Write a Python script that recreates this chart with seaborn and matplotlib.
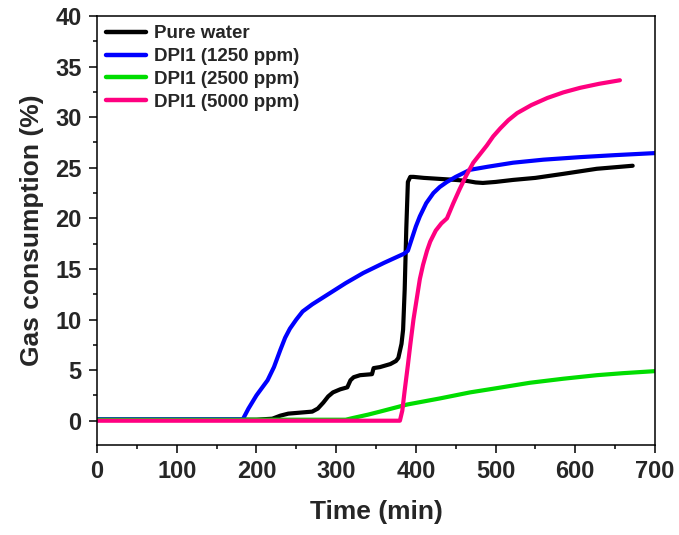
import matplotlib
matplotlib.use("Agg")
import matplotlib.pyplot as plt
import seaborn as sns
import pandas as pd
from matplotlib.ticker import MultipleLocator

# ---- data ----
labels = ["Pure water", "DPI1 (1250 ppm)", "DPI1 (2500 ppm)", "DPI1 (5000 ppm)"]
colors = ["#000000", "#0000FF", "#00DD00", "#FF0080"]

t_water = [0, 50, 100, 150, 200, 220, 230, 240, 255, 270, 277, 284, 290, 296, 305, 314,
           318, 322, 330, 345, 347, 355, 368, 375, 378, 382, 384, 386, 388, 390, 393, 397,
           410, 430, 450, 464, 475, 484, 500, 522, 550, 585, 627, 672]
y_water = [0.1, 0.1, 0.1, 0.1, 0.1, 0.2, 0.5, 0.7, 0.8, 0.9, 1.2, 1.8, 2.4, 2.8, 3.1, 3.3,
           4.0, 4.3, 4.5, 4.6, 5.2, 5.3, 5.6, 5.9, 6.2, 7.6, 9.0, 13.0, 19.0, 23.6, 24.1, 24.1,
           24.0, 23.9, 23.8, 23.7, 23.55, 23.5, 23.6, 23.8, 24.0, 24.4, 24.9, 25.2]

t_1250 = [0, 100, 183, 190, 200, 214, 222, 230, 236, 242, 250, 258, 270, 292, 312, 334, 360,
          385, 390, 395, 400, 405, 413, 422, 430, 439, 450, 468, 490, 522, 560, 606, 650, 700]
y_1250 = [0.15, 0.15, 0.15, 1.2, 2.5, 4.0, 5.3, 7.0, 8.2, 9.1, 10.0, 10.8, 11.5, 12.6, 13.6, 14.6, 15.6,
          16.5, 16.8, 18.0, 19.2, 20.2, 21.5, 22.5, 23.1, 23.6, 24.1, 24.8, 25.1, 25.5, 25.8, 26.05, 26.25, 26.45]

t_2500 = [0, 100, 200, 300, 312, 320, 340, 355, 389, 430, 468, 500, 543, 585, 627, 660, 700]
y_2500 = [0.1, 0.1, 0.1, 0.1, 0.1, 0.25, 0.6, 0.9, 1.6, 2.2, 2.8, 3.2, 3.75, 4.15, 4.5, 4.7, 4.9]

t_5000 = [0, 100, 200, 300, 380, 383, 386, 390, 393, 397, 401, 405, 409, 414, 418, 425, 432, 439,
          447, 455, 463, 472, 480, 489, 497, 506, 516, 527, 545, 565, 585, 606, 630, 656]
y_5000 = [0, 0, 0, 0, 0, 1.0, 3.0, 5.5, 7.5, 10.0, 12.0, 14.0, 15.4, 16.8, 17.7, 18.8, 19.5, 20.0,
          21.5, 22.9, 24.2, 25.5, 26.3, 27.2, 28.1, 28.9, 29.7, 30.4, 31.2, 31.9, 32.45, 32.9, 33.3, 33.65]

xticks = [0, 100, 200, 300, 400, 500, 600, 700]
yticks = [0, 5, 10, 15, 20, 25, 30, 35, 40]

series = [(t_water, y_water), (t_1250, y_1250), (t_2500, y_2500), (t_5000, y_5000)]
frames = []
for lab, (t, y) in zip(labels, series):
    frames.append(pd.DataFrame({"Time": t, "Gas": y, "Sample": lab}))
df = pd.concat(frames, ignore_index=True)

sns.set_style("ticks")
plt.rcParams["font.family"] = ["Liberation Sans", "DejaVu Sans"]
plt.rcParams["font.weight"] = "bold"
plt.rcParams["axes.labelweight"] = "bold"

fig = plt.figure(figsize=(6.79, 5.35), dpi=100)
ax = fig.add_axes([97 / 679, 1 - 445 / 535, 558 / 679, 429 / 535])

sns.lineplot(data=df, x="Time", y="Gas", hue="Sample", hue_order=labels,
             palette=dict(zip(labels, colors)), estimator=None, sort=False,
             linewidth=3.0, ax=ax)

ax.set_xlim(0, 700)
ax.set_ylim(-2.4, 40)
ax.set_xticks(xticks)
ax.set_yticks(yticks)
ax.xaxis.set_minor_locator(MultipleLocator(50))
ax.yaxis.set_minor_locator(MultipleLocator(2.5))
ax.tick_params(axis="both", which="major", direction="out", length=6, width=1.1,
               labelsize=17, pad=5, color="black")
ax.tick_params(axis="both", which="minor", direction="out", length=3, width=1.1, color="black")
for lab in ax.get_xticklabels() + ax.get_yticklabels():
    lab.set_fontweight("bold")
for s in ax.spines.values():
    s.set_visible(True)
    s.set_linewidth(1.1)
    s.set_color("black")

ax.set_xlabel("Time (min)", fontsize=19, fontweight="bold", labelpad=12)
ax.set_ylabel("Gas consumption (%)", fontsize=19, fontweight="bold", labelpad=8)

leg = ax.legend(loc="upper left", bbox_to_anchor=(0.0, 1.0), frameon=False,
                fontsize=13.5, handlelength=2.1, handletextpad=0.45,
                labelspacing=0.3, borderaxespad=0.0, borderpad=0.5)
for txt in leg.get_texts():
    txt.set_fontweight("bold")
for line in leg.get_lines():
    line.set_linewidth(3.2)

fig.savefig("out.png", dpi=100)
